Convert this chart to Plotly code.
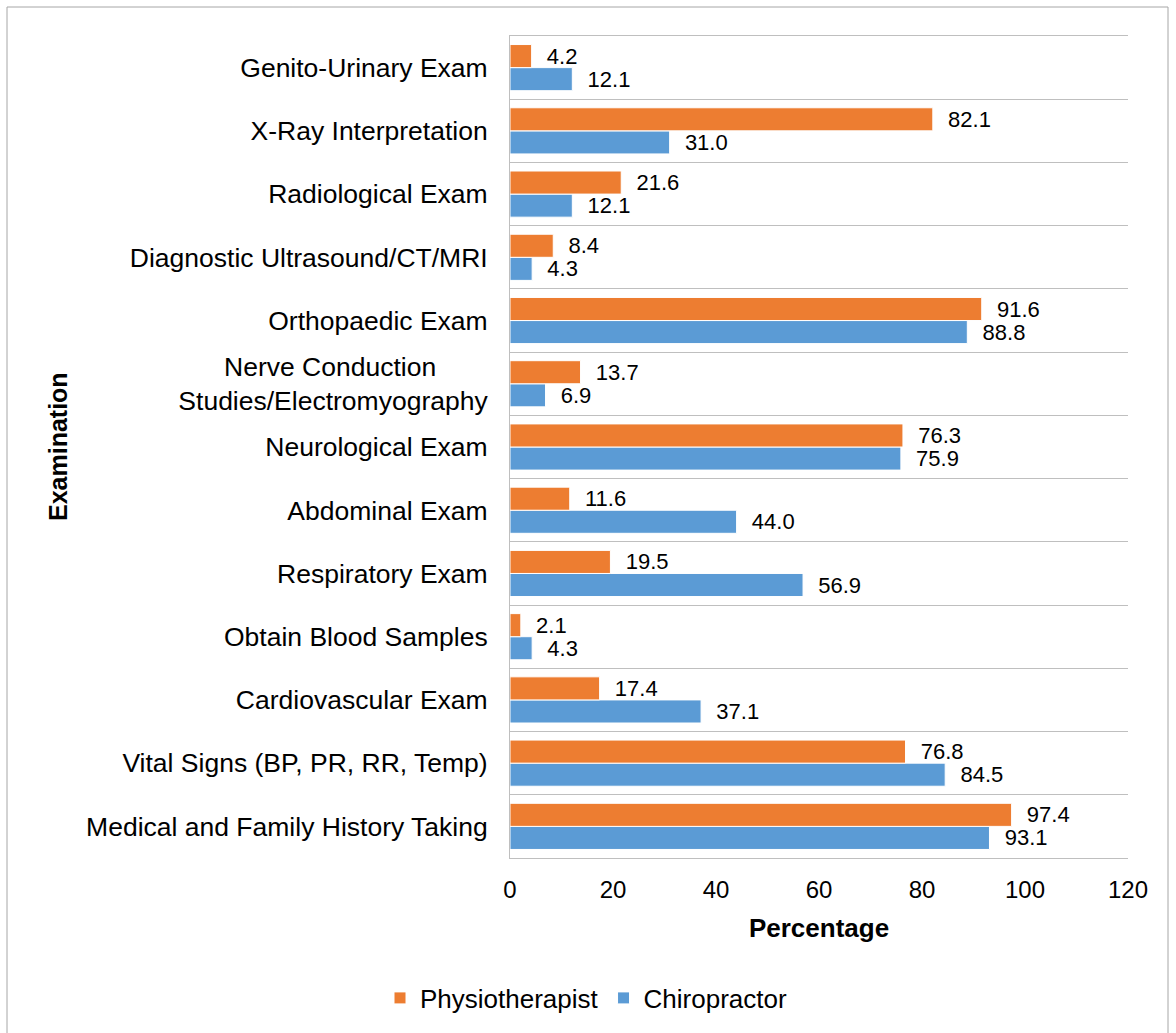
import plotly.graph_objects as go

categories = [
    "Medical and Family History Taking",
    "Vital Signs (BP, PR, RR, Temp)",
    "Cardiovascular Exam",
    "Obtain Blood Samples",
    "Respiratory Exam",
    "Abdominal Exam",
    "Neurological Exam",
    "Nerve Conduction" + "\u00a0" * 7 + "<br>Studies/Electromyography",
    "Orthopaedic Exam",
    "Diagnostic Ultrasound/CT/MRI",
    "Radiological Exam",
    "X-Ray Interpretation",
    "Genito-Urinary Exam",
]
physiotherapist = [97.4, 76.8, 17.4, 2.1, 19.5, 11.6, 76.3, 13.7, 91.6, 8.4, 21.6, 82.1, 4.2]
chiropractor = [93.1, 84.5, 37.1, 4.3, 56.9, 44.0, 75.9, 6.9, 88.8, 4.3, 12.1, 31.0, 12.1]
x_ticks = [0, 20, 40, 60, 80, 100, 120]

W, H = 1176, 1033
L, R, T, B = 510, 48, 36, 175
pw, ph = W - L - R, H - T - B

ypos = list(range(len(categories)))
FONT = "Liberation Sans, Arial, sans-serif"
ORANGE = "#ED7D31"
BLUE = "#5B9BD5"
GRID = "#bfbfbf"

fig = go.Figure()
fig.add_trace(go.Bar(
    name="Chiropractor", y=ypos, x=chiropractor, orientation="h",
    marker=dict(color=BLUE, line=dict(color="white", width=1)),
    text=[f"{v:.1f}" for v in chiropractor], texttemplate="\u00a0\u00a0%{text}",
    textposition="outside", textfont=dict(size=22, color="#000000"),
    constraintext="none", cliponaxis=False, legendrank=2,
))
fig.add_trace(go.Bar(
    name="Physiotherapist", y=ypos, x=physiotherapist, orientation="h",
    marker=dict(color=ORANGE, line=dict(color="white", width=1)),
    text=[f"{v:.1f}" for v in physiotherapist], texttemplate="\u00a0\u00a0%{text}",
    textposition="outside", textfont=dict(size=22, color="#000000"),
    constraintext="none", cliponaxis=False, legendrank=1,
))

fig.update_layout(
    width=W, height=H,
    margin=dict(l=L, r=R, t=T, b=B, autoexpand=False),
    paper_bgcolor="white", plot_bgcolor="white",
    font=dict(family=FONT, size=24, color="#000000"),
    barmode="group", bargap=0.27, bargroupgap=0,
    showlegend=True,
    legend=dict(orientation="h", x=(586 - L) / pw, xanchor="center",
                y=(H - B - 998) / ph, yanchor="middle",
                font=dict(size=26), itemwidth=30, traceorder="normal"),
    xaxis=dict(
        range=[0, 120], tickvals=x_ticks, showgrid=False, zeroline=False,
        showline=True, mirror=True, linecolor=GRID, linewidth=1,
        ticks="", tickfont=dict(size=24), ticklabelstandoff=10,
        title=dict(text="<b>Percentage</b>", font=dict(size=26), standoff=17),
    ),
    yaxis=dict(
        range=[-0.5, len(categories) - 0.5], tickvals=ypos, ticktext=categories,
        showgrid=False, zeroline=False, showline=True, linecolor=GRID,
        linewidth=1, ticks="", tickfont=dict(size=26.5), ticklabelstandoff=16,
        minor=dict(tick0=0.5, dtick=1, showgrid=True, gridcolor=GRID,
                   gridwidth=1, ticks=""),
    ),
    annotations=[dict(
        text="<b>Examination</b>", textangle=-90, xref="paper", yref="paper",
        x=(58 - L) / pw, y=(H - B - 447) / ph, xanchor="center", yanchor="middle",
        showarrow=False, font=dict(size=25),
    )],
    shapes=[dict(
        type="rect", xref="paper", yref="paper",
        x0=(7 - L) / pw, x1=(1168 - L) / pw,
        y0=(H - B - 1045) / ph, y1=(H - B - 7) / ph,
        line=dict(color="#a6a6a6", width=1), fillcolor="rgba(0,0,0,0)",
        layer="below",
    )],
)

fig.write_html("out.html", config={"displayModeBar": False},
               post_script="document.body.style.margin='0';")
